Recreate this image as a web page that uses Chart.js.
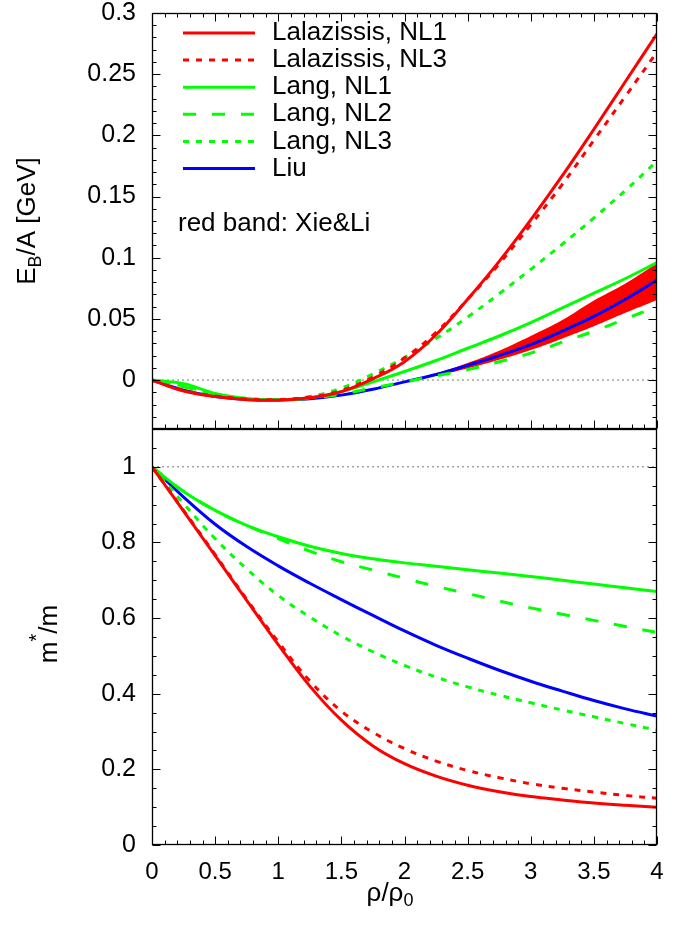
<!DOCTYPE html>
<html>
<head>
<meta charset="utf-8">
<script src="https://cdn.jsdelivr.net/npm/chart.js@4.4.1/dist/chart.umd.min.js"></script>
<style>
  html, body { margin: 0; padding: 0; background: #fff; }
  #c { display: block; }
</style>
</head>
<body>
<canvas id="c" width="696" height="932"></canvas>
<script>
// density grid rho/rho0
const rho = [0, 0.25, 0.5, 0.75, 1, 1.25, 1.5, 1.75, 2, 2.25, 2.5, 2.75, 3, 3.25, 3.5, 3.75, 4];

// binding energy per nucleon E_B/A [GeV]
const ebLalNL1  = [0, -0.009, -0.0135, -0.016, -0.0165, -0.0145, -0.0095, 0.001, 0.015, 0.037, 0.066, 0.097, 0.131, 0.167, 0.205, 0.244, 0.283];
const ebLalNL3  = [0, -0.0085, -0.013, -0.0155, -0.016, -0.014, -0.0085, 0.0025, 0.018, 0.039, 0.066, 0.095, 0.127, 0.160, 0.196, 0.232, 0.268];
const ebLangNL1 = [0, -0.003, -0.011, -0.015, -0.016, -0.0145, -0.0095, -0.0015, 0.007, 0.016, 0.026, 0.036, 0.047, 0.059, 0.071, 0.083, 0.096];
const ebLangNL2 = [0, -0.0055, -0.012, -0.0155, -0.0163, -0.015, -0.0115, -0.0065, -0.0015, 0.0035, 0.0085, 0.015, 0.022, 0.031, 0.040, 0.050, 0.060];
const ebLangNL3 = [0, -0.005, -0.0115, -0.015, -0.016, -0.0135, -0.0065, 0.005, 0.0185, 0.034, 0.0515, 0.0705, 0.0905, 0.111, 0.1325, 0.155, 0.179];
const ebLiu     = [0, -0.0082, -0.0135, -0.0158, -0.0163, -0.0153, -0.0123, -0.0075, -0.0015, 0.0045, 0.012, 0.020, 0.029, 0.040, 0.052, 0.066, 0.0817];

// red band (Xie & Li)
const bandRho = [2, 2.25, 2.5, 2.75, 3, 3.25, 3.5, 3.75, 4];
const bandHi  = [-0.0015, 0.0055, 0.014, 0.024, 0.036, 0.049, 0.065, 0.079, 0.0955];
const bandLo  = [-0.0015, 0.0035, 0.0095, 0.0165, 0.0245, 0.034, 0.044, 0.055, 0.0655];

// effective mass m*/m
const mLalNL1  = [1, 0.883, 0.765, 0.647, 0.53, 0.42, 0.33, 0.262, 0.215, 0.182, 0.158, 0.141, 0.128, 0.119, 0.111, 0.105, 0.1];
const mLalNL3  = [1, 0.885, 0.768, 0.65, 0.537, 0.434, 0.354, 0.298, 0.255, 0.222, 0.197, 0.178, 0.162, 0.15, 0.14, 0.131, 0.1235];
const mLangNL1 = [1, 0.935, 0.885, 0.845, 0.815, 0.79, 0.771, 0.757, 0.746, 0.737, 0.728, 0.719, 0.71, 0.70, 0.69, 0.68, 0.67];
const mLangNL2 = [1, 0.935, 0.885, 0.845, 0.81, 0.777, 0.749, 0.727, 0.705, 0.684, 0.665, 0.645, 0.627, 0.61, 0.594, 0.578, 0.562];
const mLangNL3 = [1, 0.903, 0.81, 0.73, 0.66, 0.603, 0.553, 0.511, 0.475, 0.444, 0.418, 0.396, 0.376, 0.357, 0.339, 0.321, 0.304];
const mLiu     = [1, 0.92, 0.848, 0.789, 0.738, 0.692, 0.649, 0.607, 0.566, 0.528, 0.494, 0.462, 0.433, 0.407, 0.382, 0.36, 0.341];

// dotted guide lines
const refRho = [0, 4];
const refTop = [0, 0];
const refBot = [1, 1];

// tick labels
const xTicks    = [0, 0.5, 1, 1.5, 2, 2.5, 3, 3.5, 4];
const yTopTicks = [0, 0.05, 0.1, 0.15, 0.2, 0.25, 0.3];
const yBotTicks = [0, 0.2, 0.4, 0.6, 0.8, 1];

const FONT = "'Liberation Sans', Arial, Helvetica, sans-serif";
const RED = '#ff0000', GREEN = '#00ff00', BLUE = '#0000ff';
const DOT = [6, 7], DASH = [13, 16];

function pts(xs, ys) {
  return xs.map((x, i) => ({ x: x, y: ys[i] }));
}

function curve(label, xs, ys, axis, color, dash, legend) {
  return {
    label: label,
    data: pts(xs, ys),
    yAxisID: axis,
    borderColor: color,
    borderWidth: 3,
    borderDash: dash || [],
    borderCapStyle: 'butt',
    pointRadius: 0,
    tension: 0.4,
    fill: false,
    order: 1,
    inLegend: !!legend
  };
}

const datasets = [
  // guides
  { data: pts(refRho, refTop), yAxisID: 'yTop', borderColor: '#777', borderWidth: 1, borderDash: [2, 3], pointRadius: 0, fill: false, order: 20 },
  { data: pts(refRho, refBot), yAxisID: 'yBot', borderColor: '#777', borderWidth: 1, borderDash: [2, 3], pointRadius: 0, fill: false, order: 20 },
  // band
  { data: pts(bandRho, bandLo), yAxisID: 'yTop', borderWidth: 0, borderColor: RED, pointRadius: 0, tension: 0.4, fill: false, order: 11 },
  { data: pts(bandRho, bandHi), yAxisID: 'yTop', borderWidth: 0, borderColor: RED, backgroundColor: RED, pointRadius: 0, tension: 0.4, fill: 2, order: 10 },
  // upper panel
  curve('Lalazissis, NL1', rho, ebLalNL1, 'yTop', RED, null, true),
  curve('Lalazissis, NL3', rho, ebLalNL3, 'yTop', RED, DOT, true),
  curve('Lang, NL1', rho, ebLangNL1, 'yTop', GREEN, null, true),
  curve('Lang, NL2', rho, ebLangNL2, 'yTop', GREEN, DASH, true),
  curve('Lang, NL3', rho, ebLangNL3, 'yTop', GREEN, DOT, true),
  curve('Liu', rho, ebLiu, 'yTop', BLUE, null, true),
  // lower panel
  curve('Lalazissis, NL1', rho, mLalNL1, 'yBot', RED),
  curve('Lalazissis, NL3', rho, mLalNL3, 'yBot', RED, DOT),
  curve('Lang, NL1', rho, mLangNL1, 'yBot', GREEN),
  curve('Lang, NL2', rho, mLangNL2, 'yBot', GREEN, DASH),
  curve('Lang, NL3', rho, mLangNL3, 'yBot', GREEN, DOT),
  curve('Liu', rho, mLiu, 'yBot', BLUE)
];

// frame with inward major/minor ticks on every side
const framePlugin = {
  id: 'frame',
  afterDatasetsDraw(chart) {
    const ctx = chart.ctx;
    const xs = chart.scales.x;
    const panels = [
      { s: chart.scales.yTop, major: 0.05, minor: 0.01, topTicks: true },
      { s: chart.scales.yBot, major: 0.2, minor: 0.05, topTicks: false }
    ];
    ctx.save();
    ctx.strokeStyle = '#000';
    ctx.lineWidth = 1;
    ctx.beginPath();
    panels.forEach(p => {
      const s = p.s;
      const L = Math.round(xs.left) + 0.5, R = Math.round(xs.right) - 0.5;
      const T = Math.round(s.top) + 0.5, B = Math.round(s.bottom) - 0.5;
      const start = Math.ceil(s.min / p.minor - 1e-6);
      for (let k = start; k * p.minor <= s.max + 1e-9; k++) {
        const v = k * p.minor;
        const isMajor = Math.abs(v / p.major - Math.round(v / p.major)) < 1e-6;
        const len = isMajor ? 8 : 4;
        const y = Math.round(s.getPixelForValue(v)) + 0.5;
        ctx.moveTo(L, y); ctx.lineTo(L + len, y);
        ctx.moveTo(R, y); ctx.lineTo(R - len, y);
      }
      for (let k = 0; k <= 40; k++) {
        const v = k * 0.1;
        const len = (k % 5 === 0) ? 8 : 4;
        const x = Math.round(xs.getPixelForValue(v)) + 0.5;
        ctx.moveTo(x, B); ctx.lineTo(x, B - len);
        if (p.topTicks) { ctx.moveTo(x, T); ctx.lineTo(x, T + len); }
      }
    });
    ctx.stroke();
    ctx.lineWidth = 1.3;
    panels.forEach(p => {
      const s = p.s;
      ctx.strokeRect(Math.round(xs.left) + 0.5, Math.round(s.top) + 0.5,
        Math.round(xs.right) - Math.round(xs.left) - 1, Math.round(s.bottom) - Math.round(s.top) - 1);
    });
    ctx.restore();
  }
};

function drawRich(ctx, parts, x, y, rot) {
  ctx.save();
  ctx.translate(x, y);
  if (rot) ctx.rotate(rot);
  ctx.fillStyle = '#000';
  ctx.textAlign = 'left';
  ctx.textBaseline = 'alphabetic';
  let w = 0;
  parts.forEach(p => { ctx.font = p.size + 'px ' + FONT; p.w = ctx.measureText(p.t).width; w += p.w; });
  let cx = -w / 2;
  parts.forEach(p => { ctx.font = p.size + 'px ' + FONT; ctx.fillText(p.t, cx, p.dy || 0); cx += p.w; });
  ctx.restore();
}

// legend inside upper panel plus axis titles
const textPlugin = {
  id: 'texts',
  afterDraw(chart) {
    const ctx = chart.ctx;
    const items = chart.data.datasets.filter(d => d.inLegend);
    ctx.save();
    items.forEach((d, i) => {
      const y = 33 + i * 27.1;
      ctx.beginPath();
      ctx.strokeStyle = d.borderColor;
      ctx.lineWidth = 3;
      ctx.lineCap = 'butt';
      ctx.setLineDash(d.borderDash || []);
      ctx.moveTo(183, y); ctx.lineTo(255, y);
      ctx.stroke();
      ctx.setLineDash([]);
      ctx.fillStyle = '#000';
      ctx.font = '26px ' + FONT;
      ctx.textBaseline = 'middle';
      ctx.textAlign = 'left';
      ctx.fillText(d.label, 272, y);
    });
    ctx.font = '26px ' + FONT;
    ctx.textBaseline = 'middle';
    ctx.fillText('red band: Xie&Li', 178, 224);
    ctx.restore();

    drawRich(ctx, [
      { t: 'E', size: 26 }, { t: 'B', size: 18, dy: 6 }, { t: '/A [GeV]', size: 26 }
    ], 35, 221, -Math.PI / 2);
    drawRich(ctx, [
      { t: 'm', size: 26 }, { t: '*', size: 20, dy: -14 }, { t: '/m', size: 26 }
    ], 57, 634, -Math.PI / 2);
    drawRich(ctx, [
      { t: '\u03c1/\u03c1', size: 26 }, { t: '0', size: 18, dy: 5 }
    ], 390, 901, 0);
  }
};

function noPad(a) {
  a.paddingTop = 0; a.paddingBottom = 0; a.paddingLeft = 0; a.paddingRight = 0;
}

Chart.defaults.font.family = FONT;
Chart.defaults.font.size = 24;
Chart.defaults.color = '#000';

new Chart(document.getElementById('c').getContext('2d'), {
  type: 'line',
  data: { datasets: datasets },
  plugins: [framePlugin, textPlugin],
  options: {
    responsive: false,
    animation: false,
    devicePixelRatio: 1,
    layout: { padding: { top: 13, right: 39, left: 0, bottom: 0 } },
    plugins: { legend: { display: false }, tooltip: { enabled: false } },
    elements: { line: { borderJoinStyle: 'round' } },
    scales: {
      x: {
        type: 'linear', min: 0, max: 4,
        grid: { display: false, drawTicks: false }, border: { display: false },
        afterBuildTicks: a => { a.ticks = xTicks.map(v => ({ value: v })); },
        afterFit: a => { a.height = 87; noPad(a); },
        ticks: { padding: 15, maxRotation: 0, font: { size: 24, lineHeight: 1 }, callback: v => String(v) }
      },
      yTop: {
        type: 'linear', position: 'left', stack: 'panels', stackWeight: 1, weight: 2,
        min: -0.04, max: 0.3,
        grid: { display: false, drawTicks: false }, border: { display: false },
        afterBuildTicks: a => { a.ticks = yTopTicks.map(v => ({ value: v })); },
        afterFit: a => { a.width = 152; noPad(a); },
        ticks: { padding: 16, font: { size: 25, lineHeight: 1 }, callback: v => String(v) }
      },
      yBot: {
        type: 'linear', position: 'left', stack: 'panels', stackWeight: 1, weight: 1,
        min: 0, max: 1.1,
        grid: { display: false, drawTicks: false }, border: { display: false },
        afterBuildTicks: a => { a.ticks = yBotTicks.map(v => ({ value: v })); },
        afterFit: a => { a.width = 152; noPad(a); },
        ticks: { padding: 16, font: { size: 25, lineHeight: 1 }, callback: v => String(v) }
      }
    }
  }
});
</script>
</body>
</html>
